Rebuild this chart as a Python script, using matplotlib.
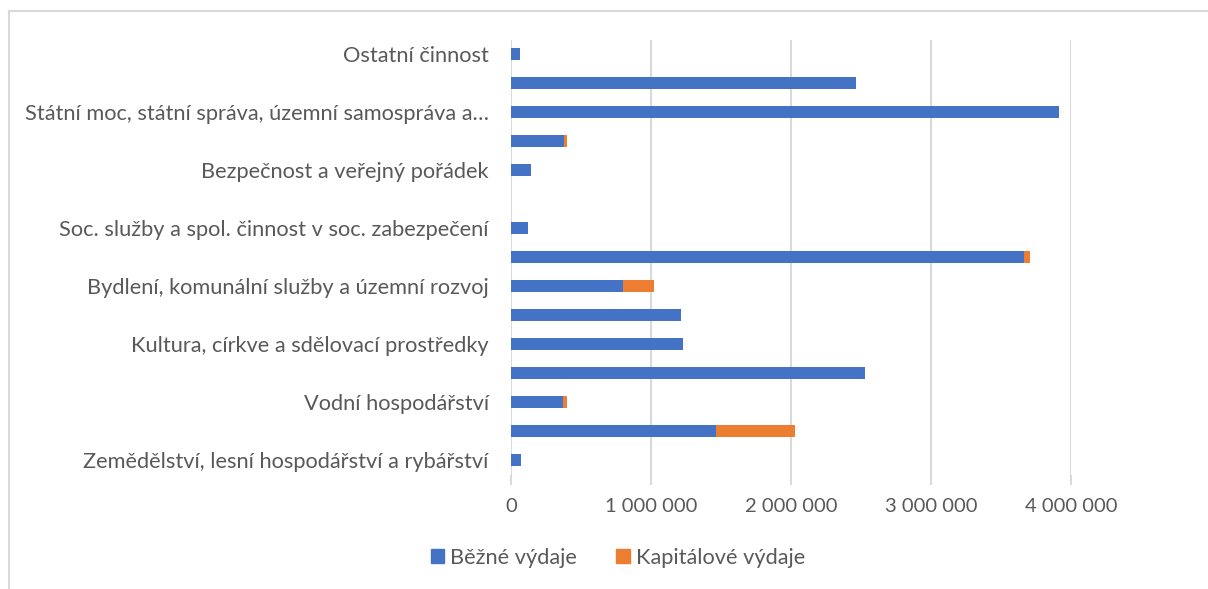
import numpy as np
import matplotlib.pyplot as plt
from matplotlib.lines import Line2D
from matplotlib.patches import Patch

plt.rcParams['font.family'] = ['Lato', 'DejaVu Sans']

# Categories from bottom to top (Excel skipped every other label)
labels = [
    'Zemědělství, lesní hospodářství a rybářství', '',
    'Vodní hospodářství', '',
    'Kultura, církve a sdělovací prostředky', '',
    'Bydlení, komunální služby a územní rozvoj', '',
    'Soc. služby a spol. činnost v soc. zabezpečení', '',
    'Bezpečnost a veřejný pořádek', '',
    'Státní moc, státní správa, územní samospráva a…', '',
    'Ostatní činnost',
]
bezne = [69000, 1462000, 371000, 2531000, 1226000, 1212000, 798000, 3664000,
         124000, 0, 143000, 381000, 3917000, 2462000, 62000]
kapitalove = [0, 569000, 27000, 0, 0, 0, 226000, 43000,
              0, 0, 0, 19000, 0, 0, 0]
xticks = [0, 1000000, 2000000, 3000000, 4000000]

blue = '#4472C4'
orange = '#ED7D31'
grid = '#D9D9D9'
text = '#595959'

fig = plt.figure(figsize=(12.08, 5.89), dpi=100)
ax = fig.add_axes([511 / 1208, 114.5 / 589, 560 / 1208, 434.7 / 589])

y = np.arange(len(labels))
ax.barh(y, bezne, height=0.42, color=blue, linewidth=0, zorder=3)
ax.barh(y, kapitalove, left=bezne, height=0.42, color=orange, linewidth=0, zorder=3)

ax.set_xlim(0, 4000000)
ax.set_ylim(-0.5, len(labels) - 0.5)
ax.set_xticks(xticks)
ax.set_xticklabels([f'{v:,}'.replace(',', ' ') for v in xticks])
ax.set_yticks(y)
ax.set_yticklabels(labels)
ax.xaxis.grid(True, color=grid, linewidth=1.5, zorder=0)
for s in ax.spines.values():
    s.set_visible(False)
ax.tick_params(axis='x', length=7, width=1.5, color=grid, pad=10, labelsize=14.5,
               labelcolor=text)
ax.tick_params(axis='y', length=0, pad=16, labelsize=15.7, labelcolor=text)

handles = [Patch(color=blue), Patch(color=orange)]
fig.legend(handles, ['Běžné výdaje', 'Kapitálové výdaje'], loc='center',
           bbox_to_anchor=(618 / 1208, 1 - 558 / 589), ncol=2, frameon=False,
           handlelength=0.6, handleheight=0.6, handletextpad=0.3, columnspacing=1.8,
           prop={'size': 15.7}, labelcolor=text)

# chart frame (partially visible)
fig.add_artist(Line2D([9 / 1208, 1], [1 - 11 / 589, 1 - 11 / 589], color=grid, lw=1.5,
                      transform=fig.transFigure))
fig.add_artist(Line2D([9 / 1208, 9 / 1208], [0, 1 - 11 / 589], color=grid, lw=1.5,
                      transform=fig.transFigure))

fig.savefig('out.png', dpi=100)
